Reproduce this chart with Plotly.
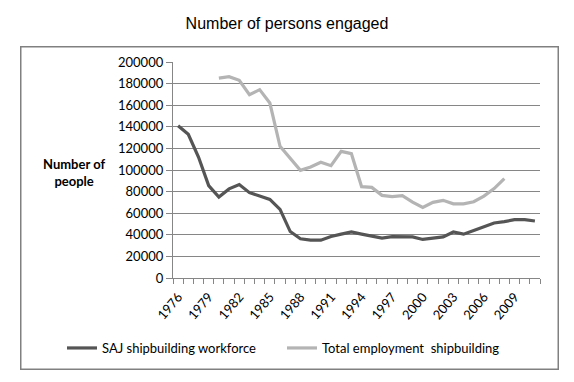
import plotly.graph_objects as go

years = list(range(1976, 2012))
saj_workforce = [141000, 133000, 112000, 85500, 75000, 82500, 86500, 79000, 76000, 72800,
                 63500, 43000, 36300, 35000, 35000, 38400, 40600, 42600, 40600, 38400,
                 36900, 38300, 38300, 38100, 35700, 36900, 38100, 42600, 40600, 44000,
                 47200, 50900, 52200, 54000, 54000, 52800]
total_years = list(range(1980, 2009))
total_employment = [185000, 186400, 183000, 169800, 174400, 162000, 121900, 111100, 99700, 102800,
                    107100, 104000, 117300, 115100, 84600, 83900, 76500, 75400, 76200, 70300,
                    65300, 70000, 71900, 68700, 68700, 70600, 75900, 82800, 92000]
tick_years = list(range(1976, 2012, 3))

# rendered page shifts the figure by OFF px; positions below are in page coordinates
OFF = 8
W, H = 574 - 2 * OFF, 382 - 2 * OFF
L_p, R_p, T_p, B_p = 173, 540, 62, 278   # plot area in page coords
L, T = L_p - OFF, T_p - OFF
R = W - (R_p - OFF)
B = H - (B_p - OFF)
pw, ph = W - L - R, H - T - B

def px(x):
    return (x - OFF - L) / pw

def py(y):
    return (H - B - (y - OFF)) / ph

font_main = "Lato, 'Open Sans', sans-serif"

fig = go.Figure()
fig.add_trace(go.Scatter(x=years, y=saj_workforce, mode="lines", name="SAJ shipbuilding workforce",
                         line=dict(color="#555555", width=3.2), legend="legend"))
fig.add_trace(go.Scatter(x=total_years, y=total_employment, mode="lines", name="Total employment  shipbuilding",
                         line=dict(color="#b4b4b4", width=3.2), legend="legend2"))

fig.update_layout(
    width=W, height=H,
    margin=dict(l=L, r=R, t=T, b=B, autoexpand=False),
    paper_bgcolor="white", plot_bgcolor="white",
    font=dict(family=font_main, size=13, color="#000000"),
    title=dict(text="Number of persons engaged", x=(287 - OFF) / W, xref="container", xanchor="center",
               y=1 - (23 - OFF) / H, yanchor="middle", yref="container",
               font=dict(family="'Liberation Sans', Arial, sans-serif", size=16, color="#000000")),
    legend=dict(orientation="h", x=px(62), y=py(348), xanchor="left", yanchor="middle",
                bgcolor="rgba(0,0,0,0)", font=dict(family=font_main, size=13)),
    legend2=dict(orientation="h", x=px(282), y=py(348), xanchor="left", yanchor="middle",
                 bgcolor="rgba(0,0,0,0)", font=dict(family=font_main, size=13)),
    showlegend=True,
)

fig.update_xaxes(
    range=[1975.5, 2011.5], tickmode="array", tickvals=tick_years,
    ticktext=[str(y) for y in tick_years], tickangle=-50,
    ticks="outside", ticklen=5, tickcolor="rgba(0,0,0,0)",
    showline=True, linecolor="#868686", linewidth=1.3,
    showgrid=False, zeroline=False,
    minor=dict(tick0=1975.5, dtick=1, ticks="outside", ticklen=5, tickcolor="#868686", showgrid=False),
    tickfont=dict(family=font_main, size=13),
)
fig.update_yaxes(
    range=[0, 200000], dtick=20000, tick0=0,
    ticks="outside", ticklen=6, tickcolor="#868686",
    showline=True, linecolor="#868686", linewidth=1.3,
    showgrid=True, gridcolor="#868686", gridwidth=1.3,
    zeroline=False, tickformat="d",
    tickfont=dict(family=font_main, size=13),
)

fig.add_annotation(text="<b>Number of<br>people</b>", xref="paper", yref="paper",
                   x=px(74), y=py(172), xanchor="center", yanchor="middle",
                   showarrow=False, font=dict(family=font_main, size=13, color="#000000"),
                   align="center")

# outer chart frame, drawn as an empty bordered annotation box
fig.add_annotation(text=" ", xref="paper", yref="paper",
                   x=px((20 + 558) / 2), y=py((46 + 369) / 2), xanchor="center", yanchor="middle",
                   width=536, height=321, borderpad=0, borderwidth=1.5, bordercolor="#808080",
                   bgcolor="rgba(0,0,0,0)", showarrow=False)

fig.write_html("out.html")
